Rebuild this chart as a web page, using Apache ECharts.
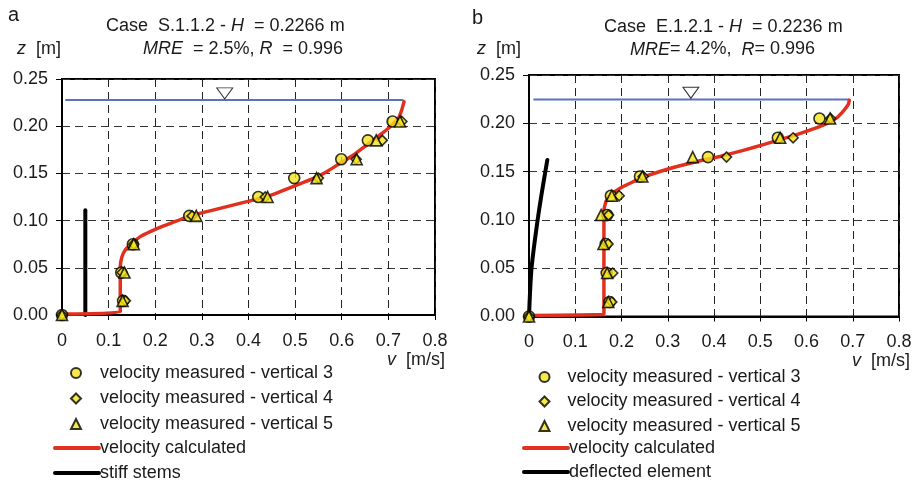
<!DOCTYPE html>
<html>
<head>
<meta charset="utf-8">
<script src="https://cdn.jsdelivr.net/npm/echarts@6/dist/echarts.min.js"></script>
<style>
html,body{margin:0;padding:0;background:#fff;}
#c{width:918px;height:481px;}
</style>
</head>
<body>
<div id="c"></div>
<script>
// ---------- data ----------
const zLevels = [0, 0.015, 0.045, 0.075, 0.105, 0.125, 0.145, 0.165, 0.185, 0.205];
// panel a (Case S.1.1.2)
const aVertical3 = [0, 0.131, 0.127, 0.152, 0.273, 0.421, 0.498, 0.599, 0.656, 0.709];
const aVertical4 = [0, 0.136, 0.129, 0.154, 0.279, 0.436, 0.550, 0.631, 0.687, 0.729];
const aVertical5 = [0, 0.130, 0.134, 0.154, 0.288, 0.441, 0.546, 0.632, 0.674, 0.725];
const aCalcV = [0, 0.125, 0.125, 0.1286, 0.1357, 0.150, 0.1679, 0.1893, 0.2179, 0.2464, 0.2729, 0.3107, 0.3536, 0.3964, 0.4393, 0.4679, 0.5036, 0.5393, 0.5679, 0.5964, 0.625, 0.6536, 0.6821, 0.7036, 0.7214, 0.7286, 0.7336];
const aCalcZ = [0.001, 0.0035, 0.0512, 0.0618, 0.0689, 0.0759, 0.083, 0.0883, 0.0943, 0.0996, 0.1049, 0.1095, 0.1148, 0.1201, 0.1254, 0.1307, 0.1377, 0.1448, 0.1518, 0.1607, 0.1695, 0.1801, 0.1907, 0.1995, 0.2083, 0.2172, 0.226];
const aStemV = [0.05, 0.05];
const aStemZ = [0, 0.111];
const aSurfaceV = [0.007, 0.732];
const aSurfaceZ = 0.2277;
const aMarkV = 0.349, aMarkZ = 0.2348;
// panel b (Case E.1.2.1)
const bVertical3 = [0, 0.174, 0.168, 0.166, 0.169, 0.177, 0.240, 0.387, 0.538, 0.628];
const bVertical4 = [0, 0.179, 0.181, 0.171, 0.172, 0.195, 0.247, 0.427, 0.571, 0.652];
const bVertical5 = [0, 0.1715, 0.169, 0.161, 0.156, 0.179, 0.245, 0.354, 0.543, 0.651];
const bCalcV = [0, 0.161, 0.162, 0.162, 0.1665, 0.1766, 0.1968, 0.222, 0.2472, 0.2832, 0.3265, 0.3697, 0.413, 0.4634, 0.5067, 0.5427, 0.5787, 0.6148, 0.6436, 0.6652, 0.6796, 0.6904, 0.6926];
const bCalcZ = [0.001, 0.002, 0.004, 0.110, 0.119, 0.1259, 0.1328, 0.1387, 0.1442, 0.1501, 0.156, 0.1612, 0.1657, 0.172, 0.1779, 0.1831, 0.1883, 0.1942, 0.1997, 0.2056, 0.2126, 0.2195, 0.224];
const bDefV = [0, 0.0022, 0.0058, 0.0166, 0.0275, 0.0396];
const bDefZ = [0, 0.0244, 0.0517, 0.093, 0.1276, 0.162];
const bSurfaceV = [0.0094, 0.69];
const bSurfaceZ = 0.2247;
const bMarkV = 0.350, bMarkZ = 0.2316;

const xTicks = [0, 0.1, 0.2, 0.3, 0.4, 0.5, 0.6, 0.7, 0.8];
const yTicks = [0, 0.05, 0.10, 0.15, 0.20, 0.25];

const names = {
  v3: 'velocity measured - vertical 3',
  v4: 'velocity measured - vertical 4',
  v5: 'velocity measured - vertical 5',
  calc: 'velocity calculated',
  stems: 'stiff stems',
  defl: 'deflected element'
};

// ---------- helpers ----------
const FONT = "'Liberation Sans', Arial, sans-serif";
const YELLOW = '#f4e31e';
const RED = '#e2301f';
const BLUE = '#5a72c2';
const zip = (xs, ys) => xs.map((x, i) => [x, ys[i]]);
const zipZ = (xs) => xs.map((x, i) => [x, zLevels[i]]);

function xAxis(gi) {
  return {
    type: 'value', gridIndex: gi, min: xTicks[0], max: xTicks[xTicks.length - 1], interval: 0.1,
    axisLine: { show: true, onZero: false, lineStyle: { color: '#000', width: 2 } },
    axisTick: { show: true, length: 5, lineStyle: { color: '#000', width: 1 } },
    axisLabel: { margin: 17, color: '#1a1a1a', fontSize: 18, fontFamily: FONT,
      formatter: v => String(+v.toFixed(1)) },
    splitLine: { show: true, lineStyle: { color: '#222', width: 1, type: [8, 5] } }
  };
}
function yAxis(gi) {
  return {
    type: 'value', gridIndex: gi, min: yTicks[0], max: yTicks[yTicks.length - 1], interval: 0.05,
    axisLine: { show: true, onZero: false, lineStyle: { color: '#000', width: 2 } },
    axisTick: { show: true, length: 6, lineStyle: { color: '#000', width: 1 } },
    axisLabel: { margin: 14, color: '#1a1a1a', fontSize: 18, fontFamily: FONT,
      formatter: v => v.toFixed(2) },
    splitLine: { show: true, lineStyle: { color: '#333', width: 1, type: [8, 5] } }
  };
}
function scatter(name, data, symbol, size, gi) {
  return {
    name, type: 'scatter', xAxisIndex: gi, yAxisIndex: gi, data, symbol, symbolSize: size,
    symbolKeepAspect: true, clip: false, z: 5,
    itemStyle: { color: YELLOW, borderColor: '#000', borderWidth: 1.6 }
  };
}
function line(name, data, color, width, gi, smooth) {
  return {
    name, type: 'line', xAxisIndex: gi, yAxisIndex: gi, data, symbol: 'none', showSymbol: false,
    smooth: smooth || false, clip: false, z: 3,
    lineStyle: { color, width, cap: 'round', join: 'round' }, itemStyle: { color }
  };
}
function panelSeries(gi, v3, v4, v5, calcV, calcZ, extraName, extraV, extraZ, surfV, surfZ, markV, markZ, extraSmooth) {
  return [
    { type: 'line', xAxisIndex: gi, yAxisIndex: gi, data: surfV.map(v => [v, surfZ]), symbol: 'none',
      lineStyle: { color: BLUE, width: 2 }, z: 2, silent: true },
    { type: 'scatter', xAxisIndex: gi, yAxisIndex: gi, data: [[markV, markZ]], symbol: 'triangle',
      symbolRotate: 180, symbolSize: [16, 11], clip: false, silent: true, z: 4,
      itemStyle: { color: '#fff', borderColor: '#000', borderWidth: 1 } },
    line(extraName, zip(extraV, extraZ), '#000', 4, gi, extraSmooth),
    line(names.calc, zip(calcV, calcZ), RED, 3.5, gi, 0.15),
    scatter(names.v3, zipZ(v3), 'circle', 11, gi),
    scatter(names.v4, zipZ(v4), 'diamond', 10, gi),
    scatter(names.v5, zipZ(v5), 'triangle', 11, gi)
  ];
}
function markerLegend(left, top, gap, textPad) {
  return {
    orient: 'vertical', left, top, height: 300, itemWidth: 10, itemHeight: 10, itemGap: gap,
    selectedMode: false, padding: 0,
    textStyle: { fontSize: 18, fontFamily: FONT, color: '#1a1a1a', padding: [0, 0, 0, textPad] },
    data: [names.v3, names.v4, names.v5]
  };
}
function lineLegend(left, top, gap, last) {
  const hide = { opacity: 0 };
  return {
    orient: 'vertical', left, top, height: 300, itemWidth: 44, itemHeight: 10, itemGap: gap,
    selectedMode: false, padding: 0,
    lineStyle: { width: 4 },
    textStyle: { fontSize: 18, fontFamily: FONT, color: '#1a1a1a', padding: [0, 0, 0, -4] },
    data: [
      { name: names.calc, itemStyle: hide, lineStyle: { width: 4, color: RED } },
      { name: last, itemStyle: hide, lineStyle: { width: 4, color: '#000' } }
    ]
  };
}
function txt(x, y, text, align, size) {
  return {
    type: 'text', x, y,
    style: {
      text, align: align || 'left', verticalAlign: 'middle', fill: '#1a1a1a',
      fontSize: size || 18, fontFamily: FONT,
      rich: { i: { fontStyle: 'italic', fontSize: size || 18, fontFamily: FONT, fill: '#1a1a1a' } }
    }
  };
}

const chart = echarts.init(document.getElementById('c'), null, { renderer: 'canvas' });
chart.setOption({
  animation: false,
  backgroundColor: '#fff',
  grid: [
    { left: 62, top: 79, width: 373, height: 236, show: true, borderColor: '#000', borderWidth: 2, backgroundColor: 'transparent' },
    { left: 529, top: 75, width: 370, height: 241.5, show: true, borderColor: '#000', borderWidth: 2, backgroundColor: 'transparent' }
  ],
  xAxis: [xAxis(0), xAxis(1)],
  yAxis: [yAxis(0), yAxis(1)],
  legend: [
    markerLegend(70, 364, 7.5, 14),
    lineLegend(53, 439, 7, names.stems),
    markerLegend(538.5, 368, 6.5, 13),
    lineLegend(522, 439, 6, names.defl)
  ],
  series: [
    ...panelSeries(0, aVertical3, aVertical4, aVertical5, aCalcV, aCalcZ, names.stems, aStemV, aStemZ, aSurfaceV, aSurfaceZ, aMarkV, aMarkZ, false),
    ...panelSeries(1, bVertical3, bVertical4, bVertical5, bCalcV, bCalcZ, names.defl, bDefV, bDefZ, bSurfaceV, bSurfaceZ, bMarkV, bMarkZ, 0.3)
  ],
  graphic: [
    txt(8, 15, 'a', 'left', 20),
    txt(106, 26, 'Case  S.1.1.2 - {i|H}  = 0.2266 m'),
    txt(143, 49, '{i|MRE}  = 2.5%, {i|R}  = 0.996'),
    txt(17, 49, '{i|z}  [m]'),
    txt(445, 360, '{i|v}  [m/s]', 'right'),
    txt(472, 18, 'b', 'left', 20),
    txt(604, 27, 'Case  E.1.2.1 - {i|H}  = 0.2236 m'),
    txt(630, 49.5, '{i|MRE}= 4.2%,  {i|R}= 0.996'),
    txt(477, 49, '{i|z}  [m]'),
    txt(910, 361, '{i|v}  [m/s]', 'right')
  ]
});
</script>
</body>
</html>
